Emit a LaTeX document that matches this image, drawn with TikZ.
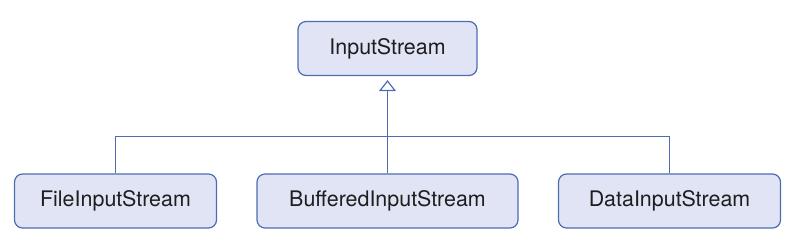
\documentclass[tikz,border=0pt]{standalone}
\usepackage{fontspec}
\setmainfont{TeX Gyre Heros}
\definecolor{umlblue}{RGB}{78,108,178}
\definecolor{umlfill}{RGB}{225,228,244}
\definecolor{umltext}{RGB}{30,30,30}
\usetikzlibrary{arrows.meta,positioning}

\begin{document}
\begin{tikzpicture}[x=1bp, y=1bp,
    classbox/.style={draw=umlblue, fill=umlfill, line width=1.2bp, rounded corners=8bp,
                     minimum height=54bp, font=\fontsize{21.5}{25}\selectfont, text=umltext},
    inherit/.style={umlblue, line width=1.2bp}]
\useasboundingbox (0,0) rectangle (792,240);

% --- Base class ---
\node[classbox, minimum width=179bp] (input) at (387.5,191.5) {InputStream};

% --- Subclasses ---
\node[classbox, minimum width=202bp] (file) at (115.5,39) {FileInputStream};
\node[classbox, minimum width=261bp] (buffered) at (387.5,39) {BufferedInputStream};
\node[classbox, minimum width=222bp] (data) at (669.5,39) {DataInputStream};

% --- Generalization ---
\coordinate (join) at (387.5,103.5);
\draw[inherit] (file.north) |- (join) -| (data.north);
\draw[inherit, -{Triangle[open, length=11bp, width=17bp]}, shorten >=4bp]
    (buffered.north) -- (input.south);

\end{tikzpicture}
\end{document}
